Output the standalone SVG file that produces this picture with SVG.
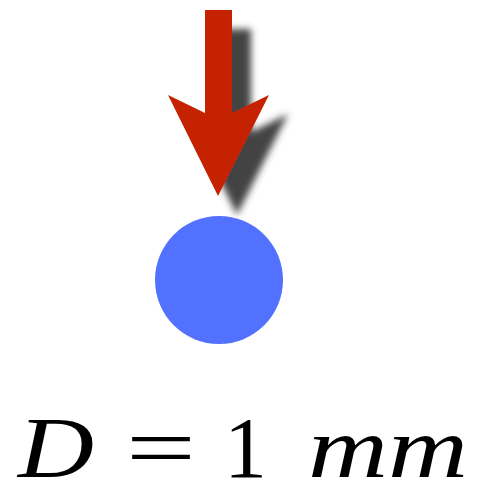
<svg xmlns="http://www.w3.org/2000/svg" width="483" height="496" viewBox="0 0 483 496">
  <defs>
    <filter id="shadow" x="-50%" y="-50%" width="200%" height="200%">
      <feGaussianBlur in="SourceAlpha" stdDeviation="3.5"/>
      <feOffset dx="19" dy="19" result="b"/>
      <feFlood flood-color="#3a3a3a" flood-opacity="0.95"/>
      <feComposite in2="b" operator="in"/>
      <feMerge>
        <feMergeNode/>
        <feMergeNode in="SourceGraphic"/>
      </feMerge>
    </filter>
  </defs>
  <rect width="483" height="496" fill="#fff"/>
  <g id="arrow">
    <path d="M205,10 L232,10 L232,113 L269,95 L218,196 L168,95 L205,113 Z" fill="#c42000" filter="url(#shadow)"/>
  </g>
  <g id="particle">
    <circle cx="219" cy="280" r="64" fill="#5271ff"/>
  </g>
  <g id="label">
    <text x="18" y="477" font-size="86" font-family="Liberation Serif" font-style="italic" textLength="76" lengthAdjust="spacingAndGlyphs">D</text>
    <text x="126" y="477" font-size="86" font-family="Liberation Serif" textLength="70" lengthAdjust="spacingAndGlyphs">=</text>
    <text x="224" y="477" font-size="86" font-family="Liberation Serif">1</text>
    <text x="308" y="477" font-size="86" font-family="Liberation Serif" font-style="italic" textLength="160" lengthAdjust="spacingAndGlyphs">mm</text>
  </g>
</svg>
